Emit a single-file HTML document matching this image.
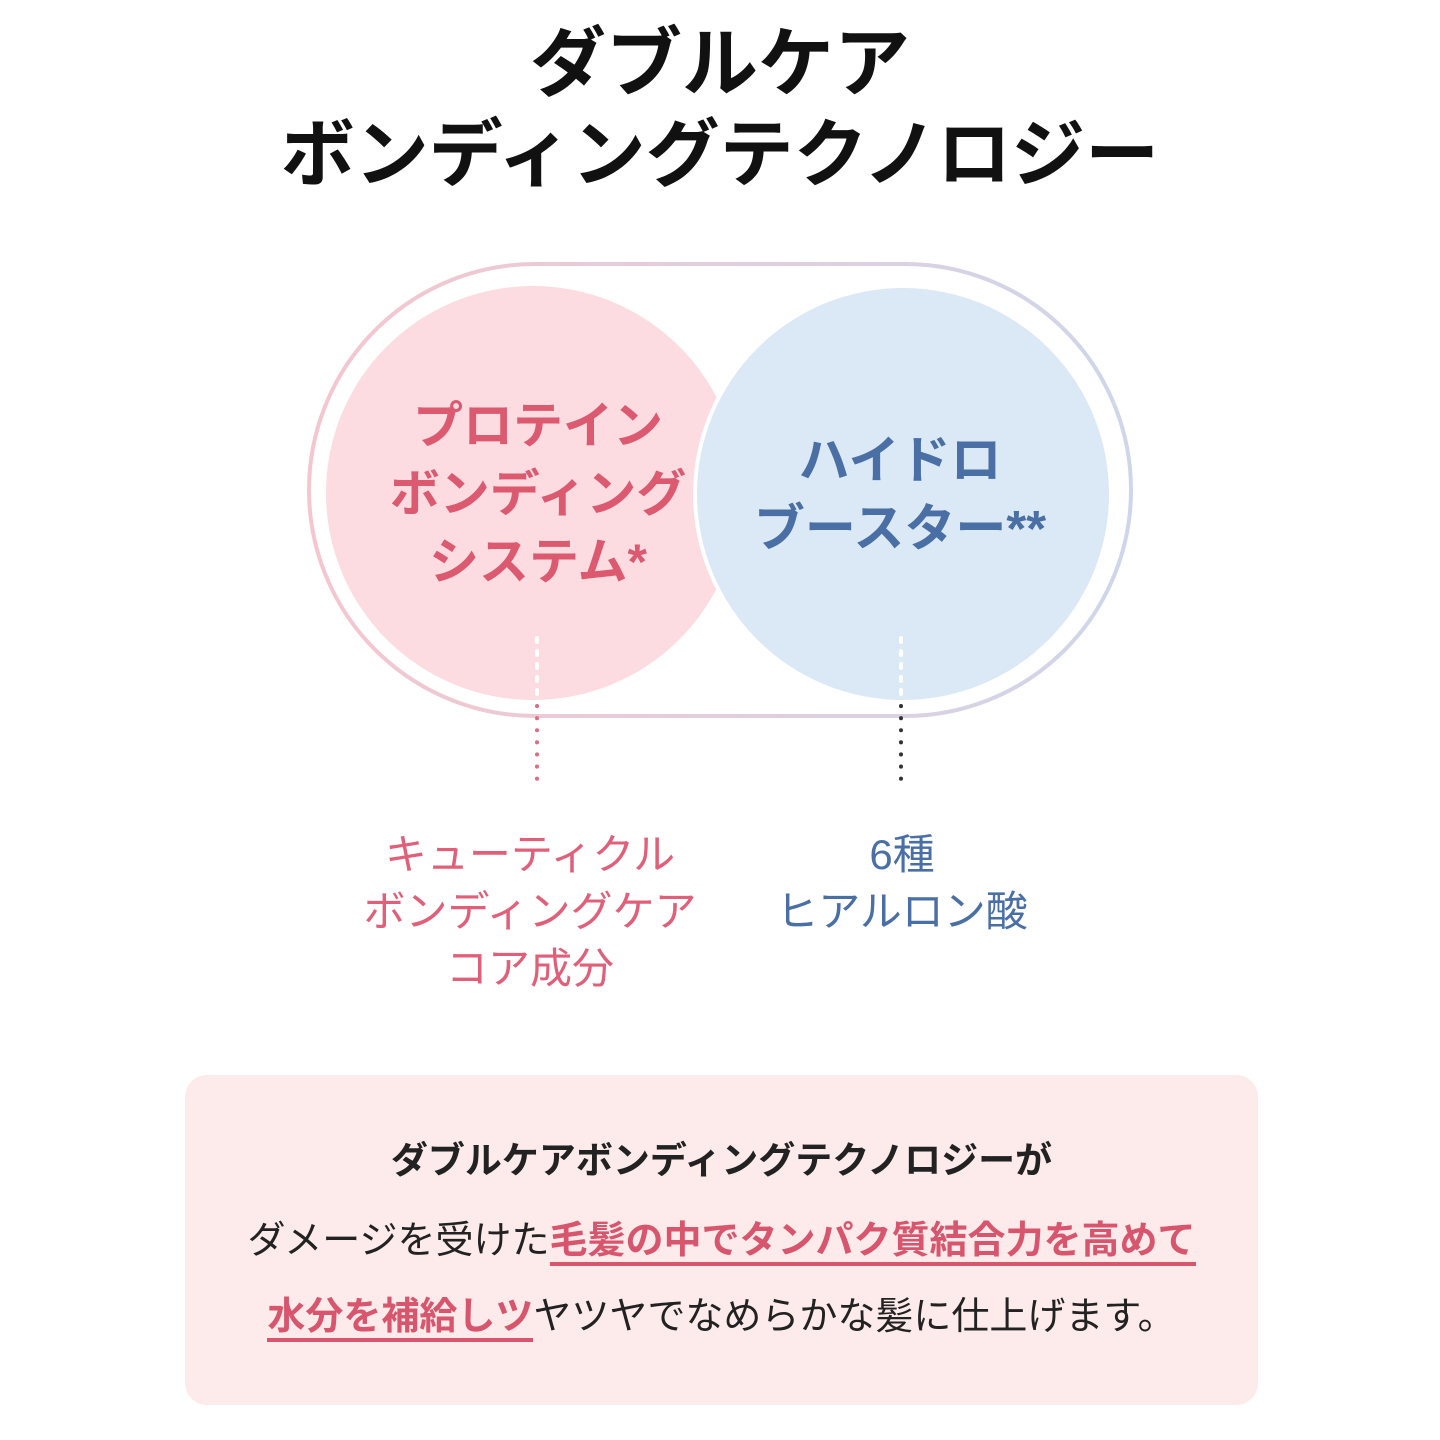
<!DOCTYPE html>
<html><head><meta charset="utf-8"><style>
body{margin:0;width:1440px;height:1440px;background:#fff;position:relative;overflow:hidden;font-family:"Liberation Sans","Noto Sans CJK JP",sans-serif}
.t{position:absolute;left:0;width:1440px;text-align:center;font-weight:bold;color:#111;white-space:nowrap}
.a{position:absolute;white-space:nowrap;text-align:center;font-weight:bold}
.u{color:#d8566d;font-weight:bold;border-bottom:4px solid #d8566d}
</style></head><body>
<div class="t" style="top:22px;font-size:76px;line-height:86px">ダブルケア</div>
<div class="t" style="top:110px;font-size:74px;line-height:90px">ボンディングテクノロジー</div>
<svg width="1440" height="1440" style="position:absolute;left:0;top:0">
<defs><linearGradient id="g" x1="0" x2="1"><stop offset="0" stop-color="#f5c6cf"/><stop offset="1" stop-color="#cfd6ea"/></linearGradient></defs>
<rect x="309" y="264" width="822" height="452" rx="226" fill="none" stroke="url(#g)" stroke-width="4"/>
<circle cx="533" cy="493" r="207" fill="#fcdbe1"/>
<circle cx="903" cy="494" r="210" fill="#fff"/>
<circle cx="903" cy="494" r="206" fill="#dbe8f5"/>
<line x1="537" y1="638" x2="537" y2="700" stroke="#fff" stroke-width="4" stroke-dasharray="4 9" stroke-linecap="round"/>
<line x1="537" y1="706" x2="537" y2="790" stroke="#e06c83" stroke-width="4" stroke-dasharray="0.1 12" stroke-linecap="round"/>
<line x1="901" y1="638" x2="901" y2="698" stroke="#fff" stroke-width="4" stroke-dasharray="4 9" stroke-linecap="round"/>
<line x1="901" y1="706" x2="901" y2="790" stroke="#333" stroke-width="4" stroke-dasharray="0.1 12" stroke-linecap="round"/>
</svg>
<div class="a" style="left:338px;width:400px;top:392px;font-size:50px;line-height:68px;color:#dc5a70">プロテイン<br>ボンディング<br>システム*</div>
<div class="a" style="left:700px;width:400px;top:427px;font-size:51px;line-height:68px;color:#4a6fa5">ハイドロ<br>ブースター**</div>
<div class="a" style="left:330px;width:400px;top:826px;font-size:42px;line-height:57px;color:#e0607a;font-weight:normal">キューティクル<br>ボンディングケア<br>コア成分</div>
<div class="a" style="left:702px;width:400px;top:826px;font-size:42px;line-height:57px;color:#4a6fa5;font-weight:normal">6種<br>ヒアルロン酸</div>
<div style="position:absolute;left:185px;top:1075px;width:1073px;height:330px;border-radius:22px;background:#fdeaea"></div>
<div class="a" style="left:185px;width:1073px;top:1138px;font-size:37px;line-height:46px;color:#222">ダブルケアボンディングテクノロジーが</div>
<div class="a" style="left:185px;width:1073px;top:1216px;font-size:38px;line-height:50px;color:#222;font-weight:normal">ダメージを受けた<span class="u">毛髪の中でタンパク質結合力を高めて</span></div>
<div class="a" style="left:185px;width:1073px;top:1292px;font-size:38px;line-height:50px;color:#222;font-weight:normal"><span class="u">水分を補給しツ</span>ヤツヤでなめらかな髪に仕上げます。</div>
</body></html>
